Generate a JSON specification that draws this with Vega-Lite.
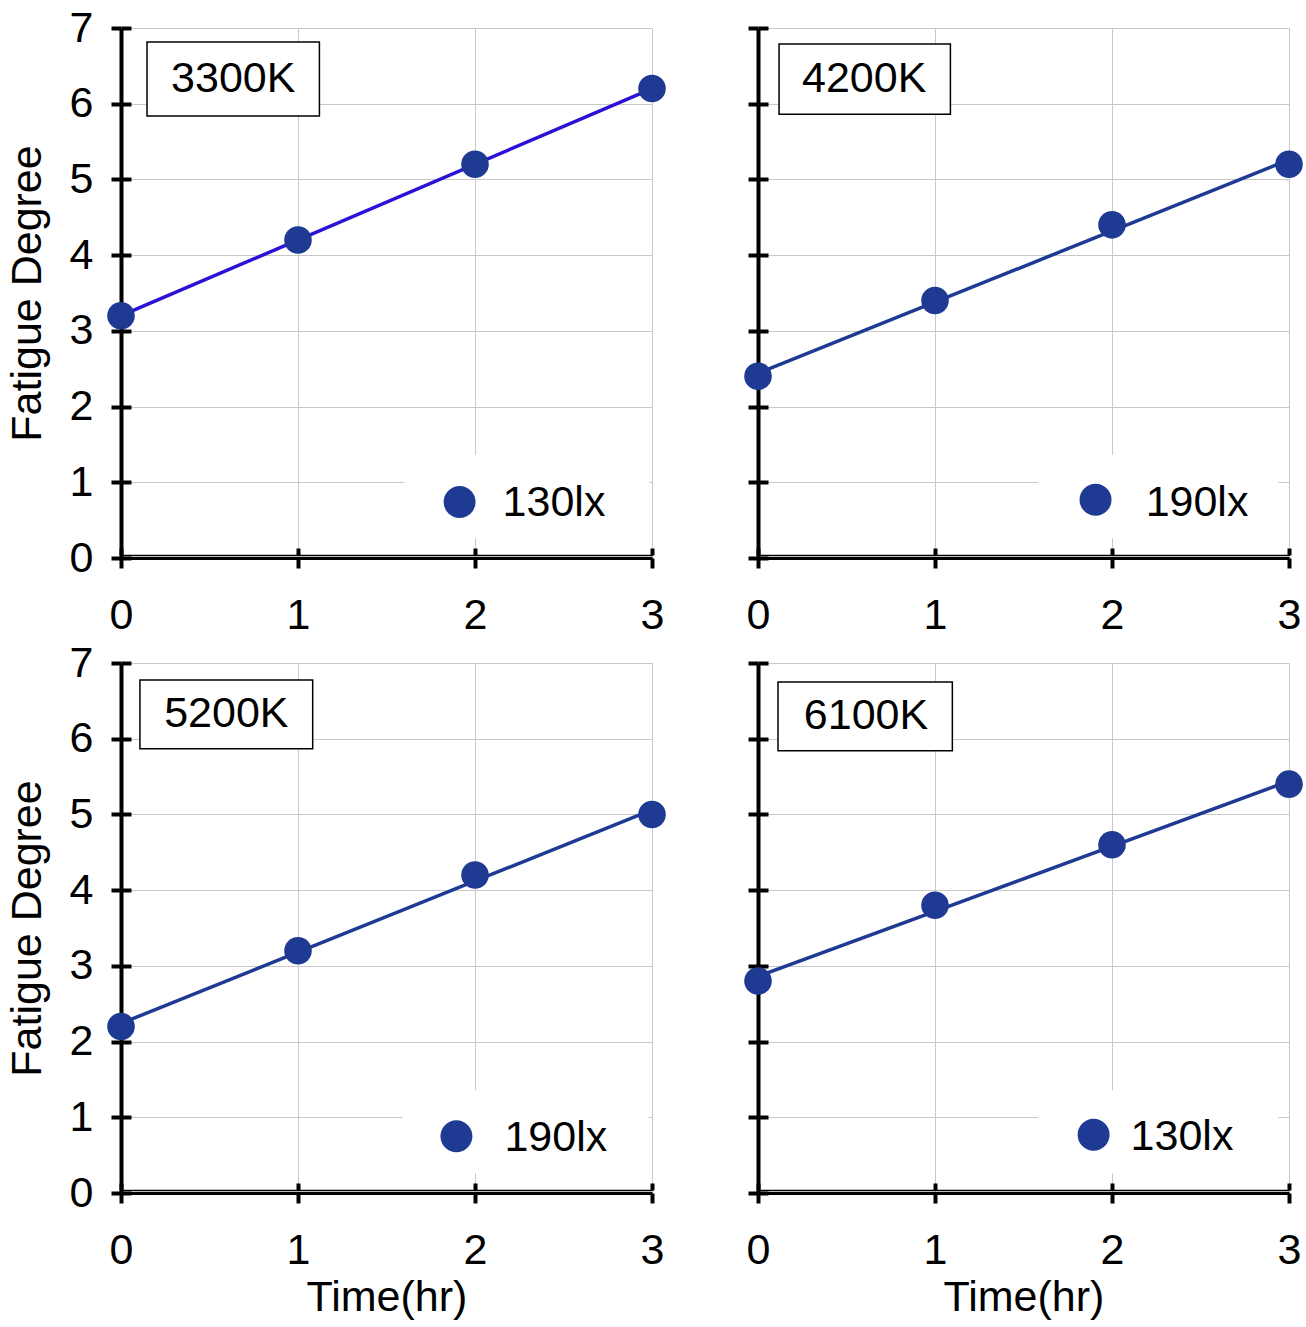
{
  "$schema": "https://vega.github.io/schema/vega-lite/v6.json",
  "padding": {"top": 7, "left": 6, "right": 14, "bottom": 5},
  "background": "white",
  "datasets": {
    "points": [
      {"panel": "3300K", "time": 0, "fatigue": 3.2},
      {"panel": "3300K", "time": 1, "fatigue": 4.2},
      {"panel": "3300K", "time": 2, "fatigue": 5.2},
      {"panel": "3300K", "time": 3, "fatigue": 6.2},
      {"panel": "4200K", "time": 0, "fatigue": 2.4},
      {"panel": "4200K", "time": 1, "fatigue": 3.4},
      {"panel": "4200K", "time": 2, "fatigue": 4.4},
      {"panel": "4200K", "time": 3, "fatigue": 5.2},
      {"panel": "5200K", "time": 0, "fatigue": 2.2},
      {"panel": "5200K", "time": 1, "fatigue": 3.2},
      {"panel": "5200K", "time": 2, "fatigue": 4.2},
      {"panel": "5200K", "time": 3, "fatigue": 5.0},
      {"panel": "6100K", "time": 0, "fatigue": 2.8},
      {"panel": "6100K", "time": 1, "fatigue": 3.8},
      {"panel": "6100K", "time": 2, "fatigue": 4.6},
      {"panel": "6100K", "time": 3, "fatigue": 5.4}
    ],
    "panels": [
      {"panel": "3300K", "lux": "130lx"},
      {"panel": "4200K", "lux": "190lx"},
      {"panel": "5200K", "lux": "190lx"},
      {"panel": "6100K", "lux": "130lx"}
    ]
  },
  "columns": 2,
  "spacing": {"row": 105, "column": 106},
  "bounds": "flush",
  "concat": [
    {
      "width": 531, "height": 530,
      "resolve": {"axis": {"x": "independent", "y": "independent"}},
      "layer": [
        {
          "data": {"name": "points"},
          "transform": [{"filter": "datum.panel === '3300K'"}, {"regression": "fatigue", "on": "time"}],
          "mark": {"type": "line", "color": "#2a12d6", "strokeWidth": 3.5},
          "encoding": {
            "x": {"field": "time", "type": "quantitative", "scale": {"domain": [0, 3]}, "axis": {"orient": "bottom", "values": [0, 1, 2, 3], "tickSize": -7, "offset": -3, "labels": false, "domain": true, "domainWidth": 1.3, "grid": false, "title": null}},
            "y": {"field": "fatigue", "type": "quantitative", "scale": {"domain": [0, 7]}, "axis": {"orient": "left", "values": [0, 1, 2, 3, 4, 5, 6, 7], "tickSize": -10, "labels": false, "domain": false, "grid": false, "title": null}}
          }
        },
        {
          "data": {"name": "points"},
          "transform": [{"filter": "datum.panel === '3300K'"}],
          "mark": {"type": "point", "filled": true, "opacity": 1, "size": 760, "color": "#1f3a93"},
          "encoding": {
            "x": {"field": "time", "type": "quantitative", "axis": {"orient": "bottom", "values": [0, 1, 2, 3], "grid": true, "title": null}},
            "y": {"field": "fatigue", "type": "quantitative", "axis": {"orient": "left", "values": [0, 1, 2, 3, 4, 5, 6, 7], "grid": true, "title": "Fatigue Degree"}}
          }
        },
        {
          "data": {"name": "panels"},
          "transform": [{"filter": "datum.panel === '3300K'"}],
          "mark": {"type": "rect", "fill": "white", "stroke": "black", "strokeWidth": 1.5},
          "encoding": {
            "x": {"datum": 0.147, "type": "quantitative", "axis": null},
            "x2": {"datum": 1.121},
            "y": {"datum": 6.815, "type": "quantitative", "axis": null},
            "y2": {"datum": 5.837}
          }
        },
        {
          "data": {"name": "panels"},
          "transform": [{"filter": "datum.panel === '3300K'"}],
          "mark": {"type": "text", "fontSize": 43, "font": "Liberation Sans", "align": "center", "baseline": "middle", "color": "black"},
          "encoding": {
            "x": {"datum": 0.634, "type": "quantitative", "axis": null},
            "y": {"datum": 6.33, "type": "quantitative", "axis": null},
            "text": {"field": "panel"}
          }
        },
        {
          "data": {"name": "panels"},
          "transform": [{"filter": "datum.panel === '3300K'"}],
          "mark": {"type": "rect", "fill": "white", "strokeWidth": 0},
          "encoding": {
            "x": {"datum": 1.6, "type": "quantitative", "axis": null},
            "x2": {"datum": 2.985},
            "y": {"datum": 1.36, "type": "quantitative", "axis": null},
            "y2": {"datum": 0.26}
          }
        },
        {
          "data": {"name": "panels"},
          "transform": [{"filter": "datum.panel === '3300K'"}],
          "mark": {"type": "point", "filled": true, "opacity": 1, "size": 1020, "color": "#1f3a93"},
          "encoding": {
            "x": {"datum": 1.913, "type": "quantitative", "axis": null},
            "y": {"datum": 0.74, "type": "quantitative", "axis": null}
          }
        },
        {
          "data": {"name": "panels"},
          "transform": [{"filter": "datum.panel === '3300K'"}],
          "mark": {"type": "text", "fontSize": 43, "font": "Liberation Sans", "align": "left", "baseline": "middle", "color": "black"},
          "encoding": {
            "x": {"datum": 2.156, "type": "quantitative", "axis": null},
            "y": {"datum": 0.72, "type": "quantitative", "axis": null},
            "text": {"field": "lux"}
          }
        }
      ]
    },
    {
      "width": 531, "height": 530,
      "resolve": {"axis": {"x": "independent", "y": "independent"}},
      "layer": [
        {
          "data": {"name": "points"},
          "transform": [{"filter": "datum.panel === '4200K'"}, {"regression": "fatigue", "on": "time"}],
          "mark": {"type": "line", "color": "#1f3a93", "strokeWidth": 3.5},
          "encoding": {
            "x": {"field": "time", "type": "quantitative", "scale": {"domain": [0, 3]}, "axis": {"orient": "bottom", "values": [0, 1, 2, 3], "tickSize": -7, "offset": -3, "labels": false, "domain": true, "domainWidth": 1.3, "grid": false, "title": null}},
            "y": {"field": "fatigue", "type": "quantitative", "scale": {"domain": [0, 7]}, "axis": {"orient": "left", "values": [0, 1, 2, 3, 4, 5, 6, 7], "tickSize": -10, "labels": false, "domain": false, "grid": false, "title": null}}
          }
        },
        {
          "data": {"name": "points"},
          "transform": [{"filter": "datum.panel === '4200K'"}],
          "mark": {"type": "point", "filled": true, "opacity": 1, "size": 760, "color": "#1f3a93"},
          "encoding": {
            "x": {"field": "time", "type": "quantitative", "axis": {"orient": "bottom", "values": [0, 1, 2, 3], "grid": true, "title": null}},
            "y": {"field": "fatigue", "type": "quantitative", "axis": {"orient": "left", "values": [0, 1, 2, 3, 4, 5, 6, 7], "grid": true, "labels": false, "title": null}}
          }
        },
        {
          "data": {"name": "panels"},
          "transform": [{"filter": "datum.panel === '4200K'"}],
          "mark": {"type": "rect", "fill": "white", "stroke": "black", "strokeWidth": 1.5},
          "encoding": {
            "x": {"datum": 0.119, "type": "quantitative", "axis": null},
            "x2": {"datum": 1.087},
            "y": {"datum": 6.79, "type": "quantitative", "axis": null},
            "y2": {"datum": 5.86}
          }
        },
        {
          "data": {"name": "panels"},
          "transform": [{"filter": "datum.panel === '4200K'"}],
          "mark": {"type": "text", "fontSize": 43, "font": "Liberation Sans", "align": "center", "baseline": "middle", "color": "black"},
          "encoding": {
            "x": {"datum": 0.6, "type": "quantitative", "axis": null},
            "y": {"datum": 6.33, "type": "quantitative", "axis": null},
            "text": {"field": "panel"}
          }
        },
        {
          "data": {"name": "panels"},
          "transform": [{"filter": "datum.panel === '4200K'"}],
          "mark": {"type": "rect", "fill": "white", "strokeWidth": 0},
          "encoding": {
            "x": {"datum": 1.585, "type": "quantitative", "axis": null},
            "x2": {"datum": 2.94},
            "y": {"datum": 1.36, "type": "quantitative", "axis": null},
            "y2": {"datum": 0.26}
          }
        },
        {
          "data": {"name": "panels"},
          "transform": [{"filter": "datum.panel === '4200K'"}],
          "mark": {"type": "point", "filled": true, "opacity": 1, "size": 1020, "color": "#1f3a93"},
          "encoding": {
            "x": {"datum": 1.907, "type": "quantitative", "axis": null},
            "y": {"datum": 0.77, "type": "quantitative", "axis": null}
          }
        },
        {
          "data": {"name": "panels"},
          "transform": [{"filter": "datum.panel === '4200K'"}],
          "mark": {"type": "text", "fontSize": 43, "font": "Liberation Sans", "align": "left", "baseline": "middle", "color": "black"},
          "encoding": {
            "x": {"datum": 2.19, "type": "quantitative", "axis": null},
            "y": {"datum": 0.72, "type": "quantitative", "axis": null},
            "text": {"field": "lux"}
          }
        }
      ]
    },
    {
      "width": 531, "height": 530,
      "resolve": {"axis": {"x": "independent", "y": "independent"}},
      "layer": [
        {
          "data": {"name": "points"},
          "transform": [{"filter": "datum.panel === '5200K'"}, {"regression": "fatigue", "on": "time"}],
          "mark": {"type": "line", "color": "#1f3a93", "strokeWidth": 3.5},
          "encoding": {
            "x": {"field": "time", "type": "quantitative", "scale": {"domain": [0, 3]}, "axis": {"orient": "bottom", "values": [0, 1, 2, 3], "tickSize": -7, "offset": -3, "labels": false, "domain": true, "domainWidth": 1.3, "grid": false, "title": null}},
            "y": {"field": "fatigue", "type": "quantitative", "scale": {"domain": [0, 7]}, "axis": {"orient": "left", "values": [0, 1, 2, 3, 4, 5, 6, 7], "tickSize": -10, "labels": false, "domain": false, "grid": false, "title": null}}
          }
        },
        {
          "data": {"name": "points"},
          "transform": [{"filter": "datum.panel === '5200K'"}],
          "mark": {"type": "point", "filled": true, "opacity": 1, "size": 760, "color": "#1f3a93"},
          "encoding": {
            "x": {"field": "time", "type": "quantitative", "axis": {"orient": "bottom", "values": [0, 1, 2, 3], "grid": true, "title": "Time(hr)"}},
            "y": {"field": "fatigue", "type": "quantitative", "axis": {"orient": "left", "values": [0, 1, 2, 3, 4, 5, 6, 7], "grid": true, "title": "Fatigue Degree"}}
          }
        },
        {
          "data": {"name": "panels"},
          "transform": [{"filter": "datum.panel === '5200K'"}],
          "mark": {"type": "rect", "fill": "white", "stroke": "black", "strokeWidth": 1.5},
          "encoding": {
            "x": {"datum": 0.107, "type": "quantitative", "axis": null},
            "x2": {"datum": 1.083},
            "y": {"datum": 6.775, "type": "quantitative", "axis": null},
            "y2": {"datum": 5.866}
          }
        },
        {
          "data": {"name": "panels"},
          "transform": [{"filter": "datum.panel === '5200K'"}],
          "mark": {"type": "text", "fontSize": 43, "font": "Liberation Sans", "align": "center", "baseline": "middle", "color": "black"},
          "encoding": {
            "x": {"datum": 0.595, "type": "quantitative", "axis": null},
            "y": {"datum": 6.33, "type": "quantitative", "axis": null},
            "text": {"field": "panel"}
          }
        },
        {
          "data": {"name": "panels"},
          "transform": [{"filter": "datum.panel === '5200K'"}],
          "mark": {"type": "rect", "fill": "white", "strokeWidth": 0},
          "encoding": {
            "x": {"datum": 1.59, "type": "quantitative", "axis": null},
            "x2": {"datum": 2.98},
            "y": {"datum": 1.36, "type": "quantitative", "axis": null},
            "y2": {"datum": 0.26}
          }
        },
        {
          "data": {"name": "panels"},
          "transform": [{"filter": "datum.panel === '5200K'"}],
          "mark": {"type": "point", "filled": true, "opacity": 1, "size": 1020, "color": "#1f3a93"},
          "encoding": {
            "x": {"datum": 1.895, "type": "quantitative", "axis": null},
            "y": {"datum": 0.75, "type": "quantitative", "axis": null}
          }
        },
        {
          "data": {"name": "panels"},
          "transform": [{"filter": "datum.panel === '5200K'"}],
          "mark": {"type": "text", "fontSize": 43, "font": "Liberation Sans", "align": "left", "baseline": "middle", "color": "black"},
          "encoding": {
            "x": {"datum": 2.166, "type": "quantitative", "axis": null},
            "y": {"datum": 0.72, "type": "quantitative", "axis": null},
            "text": {"field": "lux"}
          }
        }
      ]
    },
    {
      "width": 531, "height": 530,
      "resolve": {"axis": {"x": "independent", "y": "independent"}},
      "layer": [
        {
          "data": {"name": "points"},
          "transform": [{"filter": "datum.panel === '6100K'"}, {"regression": "fatigue", "on": "time"}],
          "mark": {"type": "line", "color": "#1f3a93", "strokeWidth": 3.5},
          "encoding": {
            "x": {"field": "time", "type": "quantitative", "scale": {"domain": [0, 3]}, "axis": {"orient": "bottom", "values": [0, 1, 2, 3], "tickSize": -7, "offset": -3, "labels": false, "domain": true, "domainWidth": 1.3, "grid": false, "title": null}},
            "y": {"field": "fatigue", "type": "quantitative", "scale": {"domain": [0, 7]}, "axis": {"orient": "left", "values": [0, 1, 2, 3, 4, 5, 6, 7], "tickSize": -10, "labels": false, "domain": false, "grid": false, "title": null}}
          }
        },
        {
          "data": {"name": "points"},
          "transform": [{"filter": "datum.panel === '6100K'"}],
          "mark": {"type": "point", "filled": true, "opacity": 1, "size": 760, "color": "#1f3a93"},
          "encoding": {
            "x": {"field": "time", "type": "quantitative", "axis": {"orient": "bottom", "values": [0, 1, 2, 3], "grid": true, "title": "Time(hr)"}},
            "y": {"field": "fatigue", "type": "quantitative", "axis": {"orient": "left", "values": [0, 1, 2, 3, 4, 5, 6, 7], "grid": true, "labels": false, "title": null}}
          }
        },
        {
          "data": {"name": "panels"},
          "transform": [{"filter": "datum.panel === '6100K'"}],
          "mark": {"type": "rect", "fill": "white", "stroke": "black", "strokeWidth": 1.5},
          "encoding": {
            "x": {"datum": 0.113, "type": "quantitative", "axis": null},
            "x2": {"datum": 1.098},
            "y": {"datum": 6.75, "type": "quantitative", "axis": null},
            "y2": {"datum": 5.84}
          }
        },
        {
          "data": {"name": "panels"},
          "transform": [{"filter": "datum.panel === '6100K'"}],
          "mark": {"type": "text", "fontSize": 43, "font": "Liberation Sans", "align": "center", "baseline": "middle", "color": "black"},
          "encoding": {
            "x": {"datum": 0.61, "type": "quantitative", "axis": null},
            "y": {"datum": 6.3, "type": "quantitative", "axis": null},
            "text": {"field": "panel"}
          }
        },
        {
          "data": {"name": "panels"},
          "transform": [{"filter": "datum.panel === '6100K'"}],
          "mark": {"type": "rect", "fill": "white", "strokeWidth": 0},
          "encoding": {
            "x": {"datum": 1.585, "type": "quantitative", "axis": null},
            "x2": {"datum": 2.94},
            "y": {"datum": 1.36, "type": "quantitative", "axis": null},
            "y2": {"datum": 0.26}
          }
        },
        {
          "data": {"name": "panels"},
          "transform": [{"filter": "datum.panel === '6100K'"}],
          "mark": {"type": "point", "filled": true, "opacity": 1, "size": 1020, "color": "#1f3a93"},
          "encoding": {
            "x": {"datum": 1.896, "type": "quantitative", "axis": null},
            "y": {"datum": 0.77, "type": "quantitative", "axis": null}
          }
        },
        {
          "data": {"name": "panels"},
          "transform": [{"filter": "datum.panel === '6100K'"}],
          "mark": {"type": "text", "fontSize": 43, "font": "Liberation Sans", "align": "left", "baseline": "middle", "color": "black"},
          "encoding": {
            "x": {"datum": 2.105, "type": "quantitative", "axis": null},
            "y": {"datum": 0.74, "type": "quantitative", "axis": null},
            "text": {"field": "lux"}
          }
        }
      ]
    }
  ],
  "config": {
    "view": {"stroke": null},
    "font": "Liberation Sans",
    "axis": {
      "domainColor": "black",
      "domainWidth": 4,
      "tickColor": "black",
      "tickWidth": 4,
      "tickSize": 10,
      "gridColor": "#c8c8c8",
      "gridWidth": 1,
      "labelFont": "Liberation Sans",
      "labelFontSize": 43,
      "labelColor": "black",
      "titleFont": "Liberation Sans",
      "titleFontSize": 43,
      "titleFontWeight": "normal",
      "titleColor": "black",
      "labelFlush": false,
      "labelOverlap": false
    },
    "axisX": {"labelPadding": 26, "titlePadding": 4, "labelAngle": 0, "domainWidth": 3},
    "axisY": {"labelPadding": 18, "titlePadding": 20}
  }
}
